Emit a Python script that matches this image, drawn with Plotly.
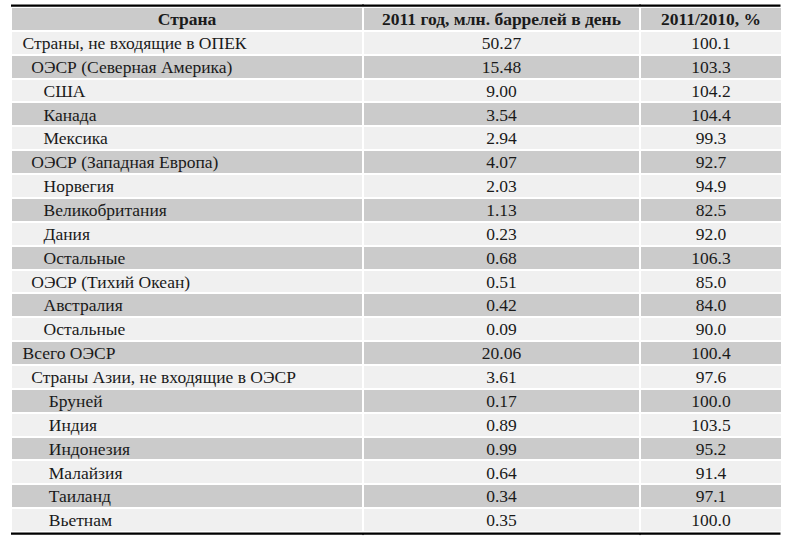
import plotly.graph_objects as go

header = ["Страна", "2011 год, млн. баррелей в день", "2011/2010, %"]

countries = [
    "Страны, не входящие в ОПЕК",
    "ОЭСР (Северная Америка)",
    "США",
    "Канада",
    "Мексика",
    "ОЭСР (Западная Европа)",
    "Норвегия",
    "Великобритания",
    "Дания",
    "Остальные",
    "ОЭСР (Тихий Океан)",
    "Австралия",
    "Остальные",
    "Всего ОЭСР",
    "Страны Азии, не входящие в ОЭСР",
    "Бруней",
    "Индия",
    "Индонезия",
    "Малайзия",
    "Таиланд",
    "Вьетнам",
]
levels = [0, 1, 2, 2, 2, 1, 2, 2, 2, 2, 1, 2, 2, 0, 1, 3, 3, 3, 3, 3, 3]
production = ["50.27", "15.48", "9.00", "3.54", "2.94", "4.07", "2.03", "1.13", "0.23", "0.68",
              "0.51", "0.42", "0.09", "20.06", "3.61", "0.17", "0.89", "0.99", "0.64", "0.34", "0.35"]
change = ["100.1", "103.3", "104.2", "104.4", "99.3", "92.7", "94.9", "82.5", "92.0", "106.3",
          "85.0", "84.0", "90.0", "100.4", "97.6", "100.0", "103.5", "95.2", "91.4", "97.1", "100.0"]

NB, TH = "\u00a0", "\u2009"
indent = {0: TH, 1: NB * 2 + TH, 2: NB * 4 + TH * 2, 3: NB * 6 + TH}
col1 = [indent[l] + c for l, c in zip(levels, countries)]

LIGHT = "#f0f0f0"
GRAY = "#cbcbcb"
row_fill = [LIGHT if i % 2 == 0 else GRAY for i in range(len(col1))]

font_family = "Liberation Serif, Times New Roman, serif"
W, H = 788, 541
ml, mr = 11, 6
top_px, bot_px = 7.0, 532.0
n_rows = len(col1) + 1
row_h = (bot_px - top_px) / n_rows
col_widths = [352, 277, 142]

fig = go.Figure(go.Table(
    columnwidth=col_widths,
    header=dict(
        values=header,
        fill_color=GRAY,
        line=dict(color="white", width=2),
        align="center",
        font=dict(family=font_family, size=17.5, color="#1a1a1a", weight="bold"),
        height=row_h,
    ),
    cells=dict(
        values=[col1, production, change],
        fill_color=[row_fill, row_fill, row_fill],
        line=dict(color="white", width=2),
        align=["left", "center", "center"],
        font=dict(family=font_family, size=17.5, color="#1a1a1a"),
        height=row_h,
    ),
    domain=dict(x=[0, 1], y=[1 - bot_px / H, 1 - top_px / H]),
))

table_w = W - ml - mr
rules = []
for ypx in (5.6, 533.6):
    rules.append(dict(
        xref="paper", yref="paper", x=0, y=1 - ypx / H,
        axref="pixel", ayref="pixel", ax=table_w, ay=0,
        text="", showarrow=True, arrowhead=0, arrowwidth=2.2,
        arrowcolor="black", standoff=0, startstandoff=0,
    ))
# small notches at column boundaries on the rules
cum = 0
for w in col_widths[:-1]:
    cum += w
    xf = cum / sum(col_widths)
    for ypx, dy in ((5.6, -3), (533.6, 3)):
        rules.append(dict(
            xref="paper", yref="paper", x=xf, y=1 - ypx / H,
            axref="pixel", ayref="pixel", ax=0, ay=dy,
            text="", showarrow=True, arrowhead=0, arrowwidth=1,
            arrowcolor="black", standoff=0, startstandoff=0,
        ))

fig.update_layout(
    width=W, height=H,
    margin=dict(l=ml, r=mr, t=0, b=0),
    paper_bgcolor="white",
    plot_bgcolor="white",
    annotations=rules,
)

post = (
    "document.body.style.margin='0';"
    "var st=document.createElement('style');"
    "st.textContent='.cell-text-holder text.cell-text{transform:translateY(-3px);}';"
    "document.head.appendChild(st);"
)
fig.write_html("out.html", config={"displayModeBar": False}, post_script=post)
